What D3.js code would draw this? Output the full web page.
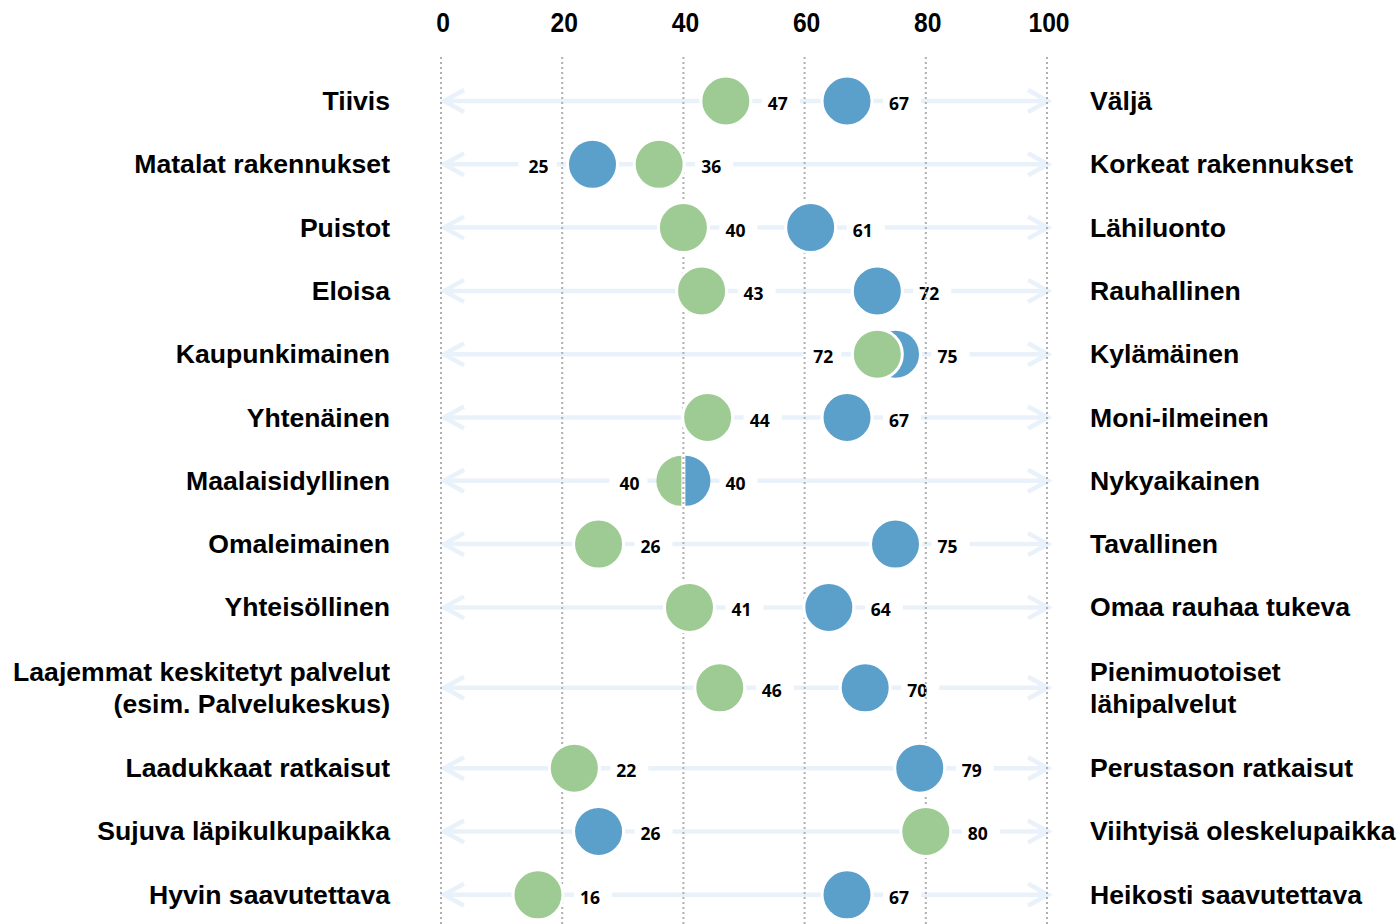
<!DOCTYPE html>
<html>
<head>
<meta charset="utf-8">
<script src="https://cdn.jsdelivr.net/npm/d3@7"></script>
<style>
  body { margin: 0; background: #fff; }
  svg { display: block; }
</style>
</head>
<body>
<svg id="chart" width="1400" height="924"></svg>
<script>
const leftLabels = ["Tiivis", "Matalat rakennukset", "Puistot", "Eloisa", "Kaupunkimainen", "Yhtenäinen",
  "Maalaisidyllinen", "Omaleimainen", "Yhteisöllinen", "Laajemmat keskitetyt palvelut\n(esim. Palvelukeskus)",
  "Laadukkaat ratkaisut", "Sujuva läpikulkupaikka", "Hyvin saavutettava"];
const rightLabels = ["Väljä", "Korkeat rakennukset", "Lähiluonto", "Rauhallinen", "Kylämäinen", "Moni-ilmeinen",
  "Nykyaikainen", "Tavallinen", "Omaa rauhaa tukeva", "Pienimuotoiset\nlähipalvelut",
  "Perustason ratkaisut", "Viihtyisä oleskelupaikka", "Heikosti saavutettava"];
const greenValues = [47, 36, 40, 43, 72, 44, 40, 26, 41, 46, 22, 80, 16];
const blueValues = [67, 25, 61, 72, 75, 67, 40, 75, 64, 70, 79, 26, 67];
const tickValues = [0, 20, 40, 60, 80, 100];

const GREEN = "#9ecb94";
const BLUE = "#5ba0cb";
const ARROW = "#e9f2fb";
const R = 25;

const svg = d3.select("#chart");

const x = d3.scaleLinear().domain([0, 100]).range([441, 1047]);

// rows with two text lines take a bit more room
let slot = -1;
const slots = leftLabels.map((l, i) => {
  const lines = Math.max(l.split("\n").length, rightLabels[i].split("\n").length);
  const prevLines = i > 0 ? Math.max(leftLabels[i - 1].split("\n").length, rightLabels[i - 1].split("\n").length) : 1;
  slot += 1 + 0.27 * (lines - 1) + 0.27 * (prevLines - 1);
  return slot;
});
const y = d3.scaleLinear().domain([0, 1]).range([101, 164.3]);

const rows = leftLabels.map((l, i) => ({
  left: l, right: rightLabels[i], green: greenValues[i], blue: blueValues[i], cy: y(slots[i])
}));

// axis labels
svg.append("g")
  .selectAll("text")
  .data(tickValues)
  .enter()
  .append("text")
  .attr("x", d => x(d) + 2)
  .attr("y", 32)
  .attr("text-anchor", "middle")
  .attr("transform", d => `translate(${x(d) + 2},0) scale(0.88,1) translate(${-(x(d) + 2)},0)`)
  .style("font-family", "'Liberation Sans Narrow', 'Liberation Sans', Arial, sans-serif")
  .style("font-weight", "bold")
  .style("font-size", "28px")
  .text(d => d);

// arrows
const arrows = svg.append("g");
rows.forEach(r => {
  const x0 = x(0) + 3, x1 = x(100) + 1;
  arrows.append("path")
    .attr("d", `M${x0},${r.cy} L${x1},${r.cy} M${x0 + 20},${r.cy - 11} L${x0},${r.cy} L${x0 + 20},${r.cy + 11} M${x1 - 20},${r.cy - 11} L${x1},${r.cy} L${x1 - 20},${r.cy + 11}`)
    .attr("fill", "none")
    .attr("stroke", ARROW)
    .attr("stroke-width", 4.5)
    .attr("stroke-linejoin", "miter");
});

// value label positions
const labels = [];
rows.forEach(r => {
  const low = r.green <= r.blue ? "green" : "blue";
  const close = Math.abs(r.green - r.blue) < 15;
  ["green", "blue"].forEach(k => {
    const side = (k === low && close) ? -1 : 1;
    labels.push({ v: r[k], cx: x(r[k]), cy: r.cy, side: side });
  });
});

const labelFont = "'Open Sans', 'DejaVu Sans', sans-serif";
const lab = svg.append("g");
lab.selectAll("rect")
  .data(labels)
  .enter()
  .append("rect")
  .attr("x", d => d.side > 0 ? d.cx + 36 : d.cx - 44 - 30)
  .attr("y", d => d.cy - 10)
  .attr("width", 38)
  .attr("height", 22)
  .attr("fill", "#fff");

// grid lines
svg.append("g")
  .selectAll("line")
  .data(tickValues)
  .enter()
  .append("line")
  .attr("x1", d => x(d))
  .attr("x2", d => x(d))
  .attr("y1", 57)
  .attr("y2", 924)
  .attr("stroke", "#b0b0b0")
  .attr("stroke-width", 2)
  .attr("stroke-dasharray", "2,3");

lab.selectAll("text")
  .data(labels)
  .enter()
  .append("text")
  .attr("x", d => d.side > 0 ? d.cx + 42 : d.cx - 44)
  .attr("y", d => d.cy + 9)
  .attr("text-anchor", d => d.side > 0 ? "start" : "end")
  .style("font-family", labelFont)
  .style("font-weight", "bold")
  .style("font-size", "17.5px")
  .text(d => d.v);

// dots
const dots = svg.append("g");
rows.forEach(r => {
  if (r.green === r.blue) {
    const cx = x(r.green);
    const half = d3.arc().innerRadius(0).outerRadius(R);
    dots.append("path")
      .attr("transform", `translate(${cx - 2},${r.cy})`)
      .attr("d", half({ startAngle: Math.PI, endAngle: 2 * Math.PI }))
      .attr("fill", GREEN);
    dots.append("path")
      .attr("transform", `translate(${cx + 2},${r.cy})`)
      .attr("d", half({ startAngle: 0, endAngle: Math.PI }))
      .attr("fill", BLUE);
    return;
  }
  dots.append("circle")
    .attr("cx", x(r.blue)).attr("cy", r.cy).attr("r", R)
    .attr("fill", BLUE).attr("stroke", "#fff").attr("stroke-width", 3);
  dots.append("circle")
    .attr("cx", x(r.green)).attr("cy", r.cy).attr("r", R)
    .attr("fill", GREEN).attr("stroke", "#fff").attr("stroke-width", 3);
});

// category labels
const catFont = "'Liberation Sans', Arial, sans-serif";
function addLabel(r, key, xPos, anchor) {
  const lines = r[key].split("\n");
  const t = svg.append("text")
    .attr("text-anchor", anchor)
    .style("font-family", catFont)
    .style("font-weight", "bold")
    .style("font-size", "26.6px");
  lines.forEach((line, j) => {
    t.append("tspan")
      .attr("x", xPos)
      .attr("y", r.cy + 9 + (j - (lines.length - 1) / 2) * 32)
      .text(line);
  });
}
rows.forEach(r => {
  addLabel(r, "left", 390, "end");
  addLabel(r, "right", 1090, "start");
});
</script>
</body>
</html>
